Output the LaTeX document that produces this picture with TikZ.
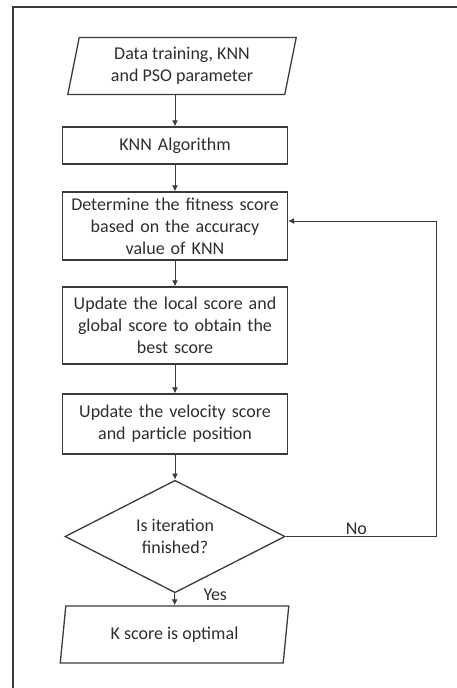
\documentclass[tikz,border=0pt]{standalone}
\usepackage{fontspec}
\setmainfont{Carlito}
\usetikzlibrary{shapes.geometric,arrows.meta}
\definecolor{linegray}{HTML}{3A3A3A}
\definecolor{textgray}{HTML}{2E2E2E}
\tikzset{
  stepbox/.style={draw=linegray, line width=1.3pt, rectangle, minimum width=225pt,
    text width=215pt, align=center, inner sep=0pt, text=textgray},
  iobox/.style={draw=linegray, line width=1.3pt, trapezium, trapezium left angle=78,
    trapezium right angle=102, trapezium stretches=true, minimum width=229pt,
    minimum height=57pt, align=center, inner sep=0pt, text=textgray},
  decbox/.style={draw=linegray, line width=1.3pt, diamond, minimum width=220pt,
    minimum height=77pt, align=center, inner sep=0pt, text=textgray},
  flow/.style={draw=linegray, line width=1pt, -{Latex[length=6pt,width=6pt]}}
}
\begin{document}
\begin{tikzpicture}[x=1pt, y=1pt, font=\fontsize{18}{22}\selectfont]
      \useasboundingbox (0,0) rectangle (456,-688);
      \draw[linegray, line width=2pt] (12.5,-700) -- (12.5,-6.5) -- (470,-6.5);
      \draw
        (182,-66) node[iobox] (input){Data training, KNN\\and PSO parameter}
        (175,-145.5) node[stepbox, minimum height=37pt] (knn){KNN Algorithm}
        (175,-226) node[stepbox, minimum height=68pt] (fit){Determine the fitness score\\based on the accuracy\\value of KNN}
        (175,-325.5) node[stepbox, minimum height=77pt] (upd){Update the local score and\\global score to obtain the\\best score}
        (175,-424) node[stepbox, minimum height=60pt] (vel){Update the velocity score\\and particle position}
        (175,-536.5) node[decbox] (dec){Is iteration\\finished?}
        (174.5,-634.5) node[iobox] (out){K score is optimal};
      \coordinate (loop) at (436,-221);
      \begin{scope}[flow]
        \draw (knn.north |- input.south) to (knn);
        \draw (knn) to (fit);
        \draw (fit) to (upd);
        \draw (upd) to (vel);
        \draw (vel) to (dec);
        \draw (dec) to node[pos=0.58, anchor=base west, xshift=25pt, text=textgray]{Yes} (out);
        \draw (dec.east) -| node[pos=0.235, above, inner sep=1pt, text=textgray]{No} (loop) -- (fit.east |- loop);
      \end{scope}
    \end{tikzpicture}
\end{document}
